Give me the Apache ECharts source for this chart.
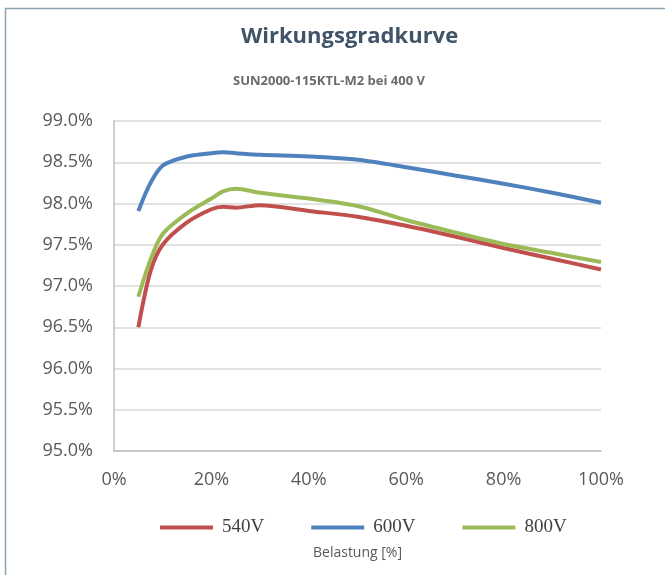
<!DOCTYPE html>
<html>
<head>
<meta charset="utf-8">
<script src="https://cdn.jsdelivr.net/npm/echarts@6/dist/echarts.min.js"></script>
<style>html,body{margin:0;padding:0;background:#fff}#c{width:665px;height:575px}</style>
</head>
<body>
<div id="c"></div>
<script>
const loads = [5, 7.5, 10, 15, 20, 22.5, 25, 30, 40, 50, 60, 70, 80, 90, 100];
const eff540 = [96.50, 97.18, 97.50, 97.77, 97.93, 97.96, 97.95, 97.98, 97.91, 97.84, 97.73, 97.60, 97.46, 97.33, 97.20];
const eff600 = [97.91, 98.25, 98.46, 98.57, 98.61, 98.62, 98.61, 98.59, 98.57, 98.53, 98.44, 98.34, 98.24, 98.13, 98.01];
const eff800 = [96.87, 97.32, 97.63, 97.88, 98.06, 98.15, 98.18, 98.13, 98.06, 97.97, 97.80, 97.65, 97.51, 97.40, 97.29];
const seriesNames = ['540V', '600V', '800V'];
const seriesColors = ['#c0504d', '#4f81bd', '#9bbb59'];

const pairs = arr => loads.map((x, i) => [x, arr[i]]);
const allData = [eff540, eff600, eff800];

const chart = echarts.init(document.getElementById('c'));
chart.setOption({
  animation: false,
  backgroundColor: '#fff',
  graphic: [{
    type: 'rect', shape: {x: 5.5, y: 8.5, width: 700, height: 600},
    style: {fill: 'none', stroke: '#8aa3b3', lineWidth: 1.5}, silent: true
  }],
  title: [{
    text: 'Wirkungsgradkurve', left: 236, top: 21,
    textStyle: {fontFamily: 'Open Sans', fontWeight: 'bold', fontSize: 22, color: '#3f5468'}
  }, {
    text: 'SUN2000-115KTL-M2 bei 400 V', left: 228, top: 70,
    textStyle: {fontFamily: 'Open Sans', fontWeight: 'bold', fontSize: 13, color: '#6b6b6b'}
  }],
  legend: {
    top: 513, left: 155, itemWidth: 53, itemHeight: 4, itemGap: 47,
    icon: 'rect',
    textStyle: {fontFamily: 'Liberation Serif', fontSize: 19, color: '#404040', padding: [0, 0, 0, 4]},
    data: seriesNames
  },
  grid: {left: 114, right: 64, top: 121, bottom: 124},
  xAxis: {
    type: 'value', min: 0, max: 100, interval: 20,
    name: 'Belastung [%]', nameLocation: 'middle', nameGap: 95,
    nameTextStyle: {fontFamily: 'Open Sans', fontSize: 14, color: '#595959'},
    axisLine: {show: true, lineStyle: {color: '#bfbfbf', width: 1.5}},
    axisTick: {show: false},
    splitLine: {show: false},
    axisLabel: {formatter: v => v + '%', fontFamily: 'Open Sans', fontSize: 18, color: '#595959', margin: 20}
  },
  yAxis: {
    type: 'value', min: 95, max: 99, interval: 0.5,
    axisLine: {show: true, lineStyle: {color: '#bfbfbf', width: 1.5}},
    axisTick: {show: false},
    splitLine: {show: true, lineStyle: {color: '#d9d9d9', width: 1.5}},
    axisLabel: {formatter: v => v.toFixed(1) + '%', fontFamily: 'Open Sans', fontSize: 18, color: '#595959', margin: 21}
  },
  series: seriesNames.map((n, i) => ({
    name: n, type: 'line', data: pairs(allData[i]), smooth: 0.3, showSymbol: false,
    lineStyle: {color: seriesColors[i], width: 4}, itemStyle: {color: seriesColors[i]}
  }))
});
</script>
</body>
</html>
